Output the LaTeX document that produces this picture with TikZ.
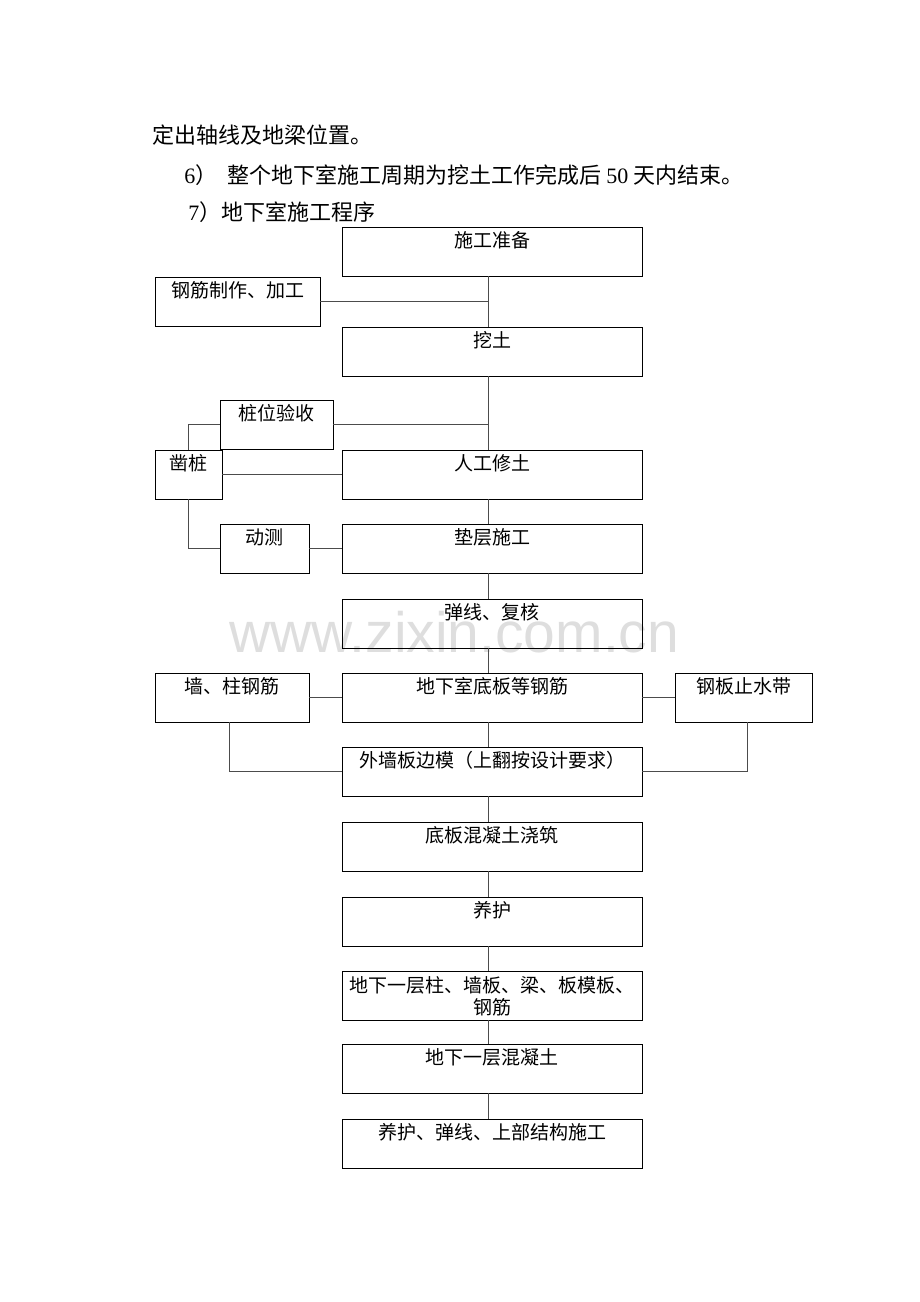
\documentclass[tikz,border=0pt]{standalone}
\usepackage{fontspec}
\setmainfont{Liberation Serif}
\newfontfamily\cjk{Noto Sans CJK SC}
\newfontfamily\wmfont{Liberation Sans}
\tikzstyle{box} = [draw=black, line width=0.45pt, inner sep=0pt, text height=10pt, text depth=14.5pt, align=center, font=\cjk\fontsize{9.5}{11}\selectfont]
\tikzstyle{line} = [draw=black!70, line width=0.45pt]
\tikzstyle{title} = [anchor=base west, inner sep=0pt, font=\cjk\fontsize{11}{13}\selectfont]

\begin{document}
\begin{tikzpicture}[x=0.5pt, y=-0.5pt]
\useasboundingbox (0,0) rectangle (920,1302);

\node [anchor=base west, inner sep=0pt, text=black!13, font=\wmfont\fontsize{28.5}{30}\selectfont] (mark) at (229,652) {www.zixin.com.cn};

\node [title] (line1) at (152,143) {定出轴线及地梁位置。};
\node [title] (line2) at (184,183) {{\rmfamily 6}）\hspace{5pt}整个地下室施工周期为挖土工作完成后 {\rmfamily 50} 天内结束。};
\node [title] (line3) at (188,220) {{\rmfamily 7}）地下室施工程序};

\coordinate (spine) at (488,0);

\foreach \y/\n/\t in {251.5/prep/施工准备, 351.5/dig/挖土, 474.5/trim/人工修土, 548.5/cushion/垫层施工, 623.5/snap/弹线、复核, 697.5/slab/地下室底板等钢筋, 771.5/form/外墙板边模（上翻按设计要求）, 846.5/pour/底板混凝土浇筑, 921.5/cure/养护, 1068.5/concrete/地下一层混凝土, 1143.5/finish/养护、弹线、上部结构施工}{
  \node [box, minimum width=150pt] (\n) at (492,\y) {\t};
}
\node [box, minimum width=150pt, text height=21.5pt, text depth=3pt] (upper) at (492,995.5) {地下一层柱、墙板、梁、板模板、\\钢筋};

\node [box, minimum width=82.5pt] (rebar) at (237.5,301.5) {钢筋制作、加工};
\node [box, minimum width=56.5pt] (check) at (276.5,424.5) {桩位验收};
\node [box, minimum width=33.5pt] (chisel) at (188.5,474.5) {凿桩};
\node [box, minimum width=44.5pt] (test) at (264.5,548.5) {动测};
\node [box, minimum width=77pt] (wallbar) at (232,697.5) {墙、柱钢筋};
\node [box, minimum width=68.5pt] (stop) at (743.5,697.5) {钢板止水带};

\foreach \a/\b in {prep/dig, dig/trim, trim/cushion, cushion/snap, snap/slab, slab/form, form/pour, pour/cure, cure/upper, upper/concrete, concrete/finish}
  \draw [line] (\a.south -| spine) -- (\b.north -| spine);

\draw [line] (rebar.east) -- (rebar.east -| spine);
\draw [line] (check.east) -- (check.east -| spine);
\draw [line] (chisel.east) -- (trim.west |- chisel.east);
\draw [line] (chisel.north) |- (check.west);
\draw [line] (chisel.south) |- (test.west);
\draw [line] (test.east) -- (cushion.west);
\draw [line] (wallbar.east) -- (slab.west);
\draw [line] (slab.east) -- (stop.west);
\draw [line] ([xshift=-1.5pt]wallbar.south) |- (form.west);
\draw [line] ([xshift=2pt]stop.south) |- (form.east);

\end{tikzpicture}
\end{document}
